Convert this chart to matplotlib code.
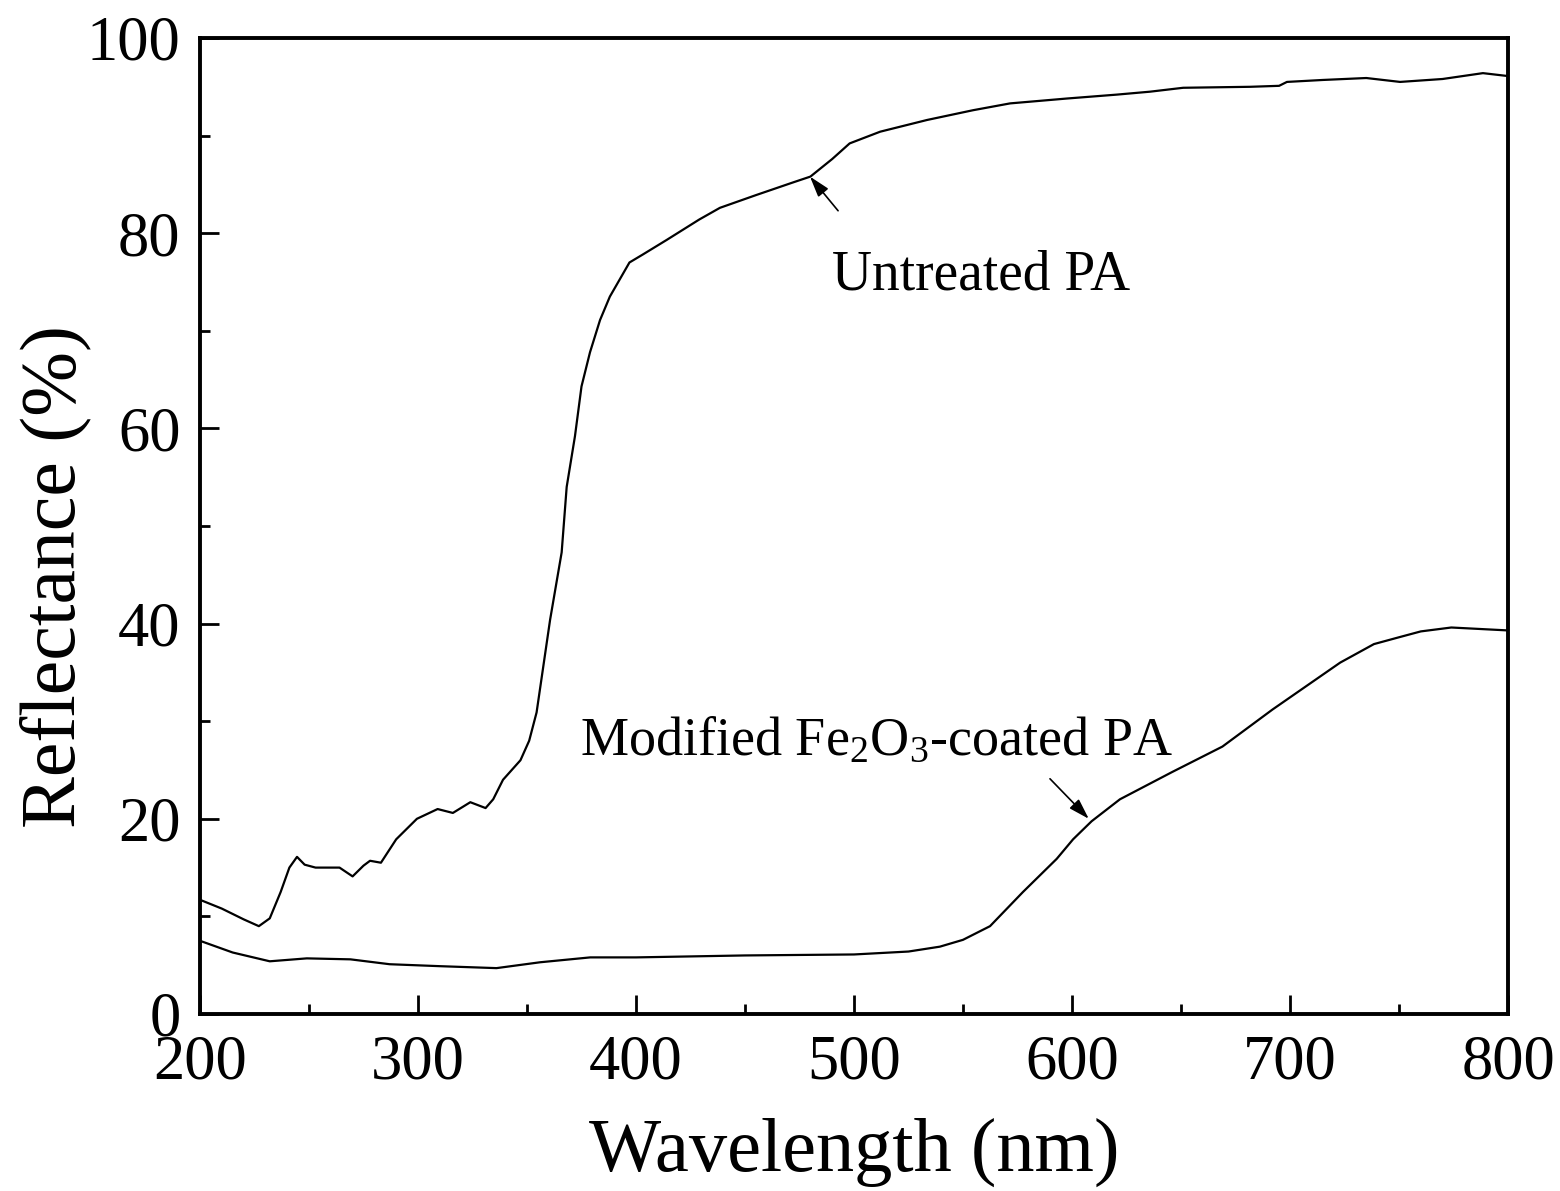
import matplotlib
matplotlib.use("Agg")
import matplotlib.pyplot as plt
from matplotlib.ticker import MultipleLocator

plt.rcParams['font.family'] = ['Liberation Serif', 'DejaVu Serif']
plt.rcParams['mathtext.fontset'] = 'custom'
plt.rcParams['mathtext.rm'] = 'Liberation Serif'
plt.rcParams['mathtext.it'] = 'Liberation Serif'
plt.rcParams['mathtext.default'] = 'regular'

# Untreated PA
wl_untreated = [200, 210, 220, 227, 232, 237, 241, 244.5, 248, 253, 264, 270, 275, 278, 283,
                290, 299.5, 309, 316, 324, 331, 334.5, 339, 343, 347, 351, 354.4, 360.6,
                365.9, 368.2, 372, 375, 378.9, 383.5, 388, 397, 403, 414, 429, 438.5, 455,
                472, 480, 490, 498, 512, 533.5, 554.6, 571.6, 597.7, 620.6, 635.8, 651,
                681.7, 695, 698.6, 715, 735, 750.5, 770, 788.5, 800]
r_untreated = [11.7, 10.8, 9.7, 9.0, 9.8, 12.5, 15.0, 16.1, 15.3, 15.0, 15.0, 14.1, 15.2, 15.7, 15.5,
               17.9, 20.0, 21.0, 20.6, 21.7, 21.1, 22.0, 24.0, 25.0, 26.0, 28.0, 30.9, 40.4,
               47.3, 54.0, 59.2, 64.3, 67.8, 71.1, 73.5, 77.0, 77.8, 79.3, 81.4, 82.6, 83.9,
               85.2, 85.8, 87.6, 89.2, 90.4, 91.6, 92.6, 93.3, 93.8, 94.2, 94.5, 94.9,
               95.0, 95.1, 95.5, 95.7, 95.9, 95.5, 95.8, 96.4, 96.1]

# Modified Fe2O3-coated PA
wl_modified = [200, 215, 232, 249, 269, 287, 310, 336, 356, 379, 400, 450, 500, 525, 539.4,
               550, 562.4, 577.5, 593, 600.5, 609, 622, 646, 669, 692, 723, 738.5, 750,
               760, 774, 800]
r_modified = [7.5, 6.3, 5.4, 5.7, 5.6, 5.1, 4.9, 4.7, 5.3, 5.8, 5.8, 6.0, 6.1, 6.4, 6.9,
              7.6, 9.0, 12.5, 15.9, 17.9, 19.75, 22.0, 24.8, 27.4, 31.2, 36.0, 37.9, 38.6,
              39.2, 39.6, 39.3]

fig = plt.figure(figsize=(15.6, 11.91), dpi=100)
ax = fig.add_axes([200/1560, 1 - 1014/1191, 1308/1560, (1014-38)/1191])

ax.plot(wl_untreated, r_untreated, color='black', lw=1.6)
ax.plot(wl_modified, r_modified, color='black', lw=1.6)

ax.set_xlim(200, 800)
ax.set_ylim(0, 100)
ax.xaxis.set_major_locator(MultipleLocator(100))
ax.xaxis.set_minor_locator(MultipleLocator(50))
ax.yaxis.set_major_locator(MultipleLocator(20))
ax.yaxis.set_minor_locator(MultipleLocator(10))
ax.tick_params(which='both', direction='in', top=False, right=False, labelsize=45)
ax.tick_params(which='major', length=14, width=2)
ax.tick_params(which='minor', length=7, width=2)
ax.tick_params(axis='x', pad=15)
ax.tick_params(axis='y', pad=14)
for s in ax.spines.values():
    s.set_linewidth(2.8)

ax.set_xlabel('Wavelength (nm)', fontsize=55, labelpad=18)
ax.set_ylabel('Reflectance (%)', fontsize=56)
ax.yaxis.set_label_coords(-0.083, 0.448)

arrow_kw = dict(arrowstyle='-|>,head_length=0.45,head_width=0.14', color='black', lw=1.2,
                mutation_scale=28, shrinkA=0, shrinkB=0)
ax.annotate('', xy=(479.8, 85.8), xytext=(492.7, 82.3), arrowprops=arrow_kw)
ax.text(489.9, 74.2, 'Untreated PA', fontsize=40, va='baseline', ha='left')

ax.annotate('', xy=(607.7, 20.0), xytext=(589.9, 24.1), arrowprops=arrow_kw)
ax.text(374.3, 26.6, 'Modified Fe$_2$O$_3$-coated PA', fontsize=39, va='baseline', ha='left')

fig.savefig('out.png', dpi=100)
